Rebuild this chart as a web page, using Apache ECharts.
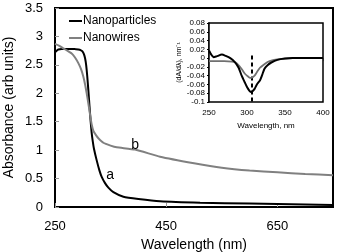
<!DOCTYPE html>
<html><head><meta charset="utf-8">
<script src="https://cdn.jsdelivr.net/npm/echarts@6/dist/echarts.min.js"></script>
<style>html,body{margin:0;padding:0;background:#fff}#c{width:337px;height:252px}</style>
</head><body><div id="c"></div>
<script>
// Main absorbance spectra
const npWave = [250,253,256,262,270,277,285,292,296,299,302,304,306,308,310,312,314,316,318,320,325,330,334,340,346,355,373,400,439,511,600,700,750];
const npAbs  = [2.72,2.75,2.77,2.78,2.78,2.78,2.78,2.77,2.76,2.74,2.69,2.62,2.50,2.30,2.05,1.78,1.52,1.30,1.15,1.03,0.82,0.64,0.53,0.42,0.34,0.26,0.18,0.14,0.10,0.075,0.06,0.045,0.035];
const nwWave = [250,257,265,272,280,286,292,297,301,304,307,310,313,316,319,324,328,337,350,361,394,439,500,550,600,650,700,750];
const nwAbs  = [2.87,2.84,2.79,2.75,2.70,2.63,2.53,2.42,2.29,2.16,2.00,1.82,1.63,1.45,1.34,1.26,1.21,1.13,1.08,1.05,1.01,0.885,0.77,0.69,0.64,0.61,0.58,0.56];
// Inset derivative spectra
const npDWave = [250,253,256,260,267,272,278,284,289,293,297,300,303,305,307,310,313,317,320,323,327,332,340,350,360,380,400];
const npDeriv = [0.0175,0.008,0.002,0.004,0.008,0.005,0.0,-0.009,-0.022,-0.040,-0.055,-0.066,-0.074,-0.077,-0.076,-0.070,-0.060,-0.051,-0.038,-0.024,-0.016,-0.010,-0.004,-0.001,0.0,0.0,0.0];
const nwDWave = [250,260,270,280,285,290,293,297,300,304,306,310,313,317,322,327,333,340,350,360,380,400];
const nwDeriv = [-0.007,-0.007,-0.007,-0.008,-0.010,-0.018,-0.025,-0.035,-0.040,-0.045,-0.045,-0.040,-0.032,-0.022,-0.015,-0.009,-0.005,-0.003,-0.001,0.0,0.0,0.0];
const peakWave = 306;
const mainXTicks = [250,450,650];
const labelA = {text:'a', wave:349, abs:0.56};
const labelB = {text:'b', wave:394, abs:1.09};

const pairs = (xs, ys) => xs.map((x,i)=>[x, ys[i]]);
const F = 'Liberation Sans, Arial, sans-serif';
const chart = echarts.init(document.getElementById('c'), null, {renderer:'canvas'});
chart.setOption({
  animation:false,
  backgroundColor:'#fff',
  textStyle:{fontFamily:F},
  legend:{
    data:['Nanoparticles','Nanowires'], orient:'vertical', left:64, top:10,
    itemWidth:13, itemHeight:2, itemGap:5, icon:'rect',
    textStyle:{fontFamily:F, fontSize:12, color:'#000', padding:[0,0,0,-4]}
  },
  grid:[
    {left:55, top:8, right:4, bottom:45, show:true, borderColor:'#000', borderWidth:2, backgroundColor:'transparent', containLabel:false, outerBoundsMode:'none'},
    {left:209, top:23, right:14, bottom:150, show:true, borderColor:'#000', borderWidth:1.5, backgroundColor:'#fff', z:5, containLabel:false, outerBoundsMode:'none'}
  ],
  xAxis:[
    {type:'value', gridIndex:0, min:250, max:750,
     axisLine:{show:true, onZero:false, lineStyle:{color:'#000', width:2}},
     axisTick:{show:true, inside:true, length:4, customValues:mainXTicks, lineStyle:{color:'#999'}},
     axisLabel:{customValues:mainXTicks, fontSize:13, color:'#000', margin:13, fontFamily:F},
     splitLine:{show:false},
     name:'Wavelength (nm)', nameLocation:'middle', nameGap:28,
     nameTextStyle:{fontSize:14, color:'#000', fontFamily:F}},
    {type:'value', gridIndex:1, min:250, max:400, interval:50,
     axisLine:{show:false, onZero:false},
     axisTick:{show:false},
     axisLabel:{fontSize:8, color:'#000', margin:7, fontFamily:F, showMinLabel:true, showMaxLabel:true},
     splitLine:{show:false},
     name:'Wavelength, nm', nameLocation:'middle', nameGap:20,
     nameTextStyle:{fontSize:8, color:'#000', fontFamily:F}},
    {type:'value', gridIndex:1, min:250, max:400, interval:50, position:'bottom',
     axisLine:{show:true, onZero:true, lineStyle:{color:'#aaa', width:1.2}},
     axisTick:{show:true, length:3, inside:false, lineStyle:{color:'#aaa'}},
     axisLabel:{show:false}, splitLine:{show:false}}
  ],
  yAxis:[
    {type:'value', gridIndex:0, min:0, max:3.5, interval:0.5,
     axisLine:{show:true, lineStyle:{color:'#000', width:2}},
     axisTick:{show:true, inside:true, length:4, lineStyle:{color:'#999'}},
     axisLabel:{fontSize:13, color:'#000', margin:12, fontFamily:F, showMinLabel:true, showMaxLabel:true},
     splitLine:{show:false},
     name:'Absorbance (arb units)', nameLocation:'middle', nameGap:39, nameMoveOverlap:false,
     nameTextStyle:{fontSize:14, color:'#000', fontFamily:F}},
    {type:'value', gridIndex:1, min:-0.1, max:0.08, interval:0.02,
     axisLine:{show:true, lineStyle:{color:'#000', width:1.5}},
     axisTick:{show:true, length:2, lineStyle:{color:'#000'}},
     axisLabel:{fontSize:8, lineHeight:8, color:'#000', margin:4, fontFamily:F, showMinLabel:true, showMaxLabel:true, hideOverlap:false},
     splitLine:{show:false},
     name:'(dA/dλ), nm⁻¹', nameLocation:'middle', nameGap:18,
     nameTextStyle:{fontSize:7, color:'#000', fontFamily:F}}
  ],
  series:[
    {name:'Nanoparticles', type:'line', xAxisIndex:0, yAxisIndex:0, data:pairs(npWave,npAbs),
     showSymbol:false, symbol:'none', smooth:0.15,
     lineStyle:{color:'#000', width:2}, itemStyle:{color:'#000'},
     markPoint:{symbol:'circle', symbolSize:0, data:[{coord:[labelA.wave,labelA.abs], value:labelA.text}],
       label:{show:true, formatter:'{c}', fontSize:14, color:'#000', fontFamily:F}}},
    {name:'Nanowires', type:'line', xAxisIndex:0, yAxisIndex:0, data:pairs(nwWave,nwAbs),
     showSymbol:false, symbol:'none', smooth:0.15,
     lineStyle:{color:'#808080', width:2}, itemStyle:{color:'#808080'},
     markPoint:{symbol:'circle', symbolSize:0, data:[{coord:[labelB.wave,labelB.abs], value:labelB.text}],
       label:{show:true, formatter:'{c}', fontSize:14, color:'#000', fontFamily:F}}},
    {name:'NP derivative', type:'line', xAxisIndex:1, yAxisIndex:1, data:pairs(npDWave,npDeriv),
     showSymbol:false, symbol:'none', smooth:0.2, z:10,
     lineStyle:{color:'#000', width:2},
     markLine:{silent:true, symbol:'none', label:{show:false},
       lineStyle:{color:'#000', width:2, type:[4,3]},
       data:[[{coord:[peakWave,0.006]},{coord:[peakWave,-0.1]}]]}},
    {name:'NW derivative', type:'line', xAxisIndex:1, yAxisIndex:1, data:pairs(nwDWave,nwDeriv),
     showSymbol:false, symbol:'none', smooth:0.2, z:9,
     lineStyle:{color:'#707070', width:1.8}}
  ]
});
</script></body></html>
